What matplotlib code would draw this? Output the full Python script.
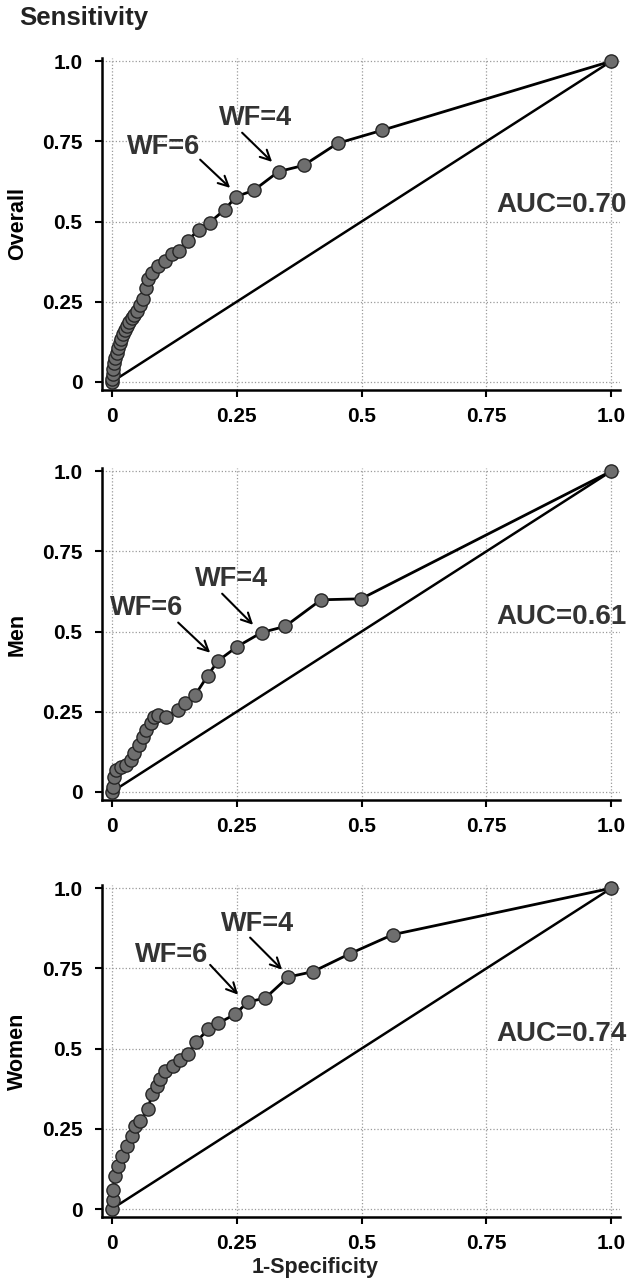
import matplotlib
matplotlib.use('Agg')
from matplotlib import pyplot as plt

plt.rcParams['font.family'] = ['Liberation Sans', 'DejaVu Sans']
plt.rcParams['font.weight'] = 'bold'

# ROC points (1-specificity, sensitivity)
overall_fpr = [0, 0.001, 0.002, 0.003, 0.004, 0.006, 0.01, 0.013, 0.016, 0.019, 0.022, 0.026,
               0.03, 0.035, 0.04, 0.045, 0.05, 0.056, 0.062, 0.068, 0.072, 0.08, 0.092, 0.106,
               0.12, 0.134, 0.152, 0.174, 0.196, 0.226, 0.249, 0.284, 0.334, 0.384, 0.452, 0.54, 1.0]
overall_tpr = [0, 0.01, 0.025, 0.04, 0.06, 0.075, 0.09, 0.105, 0.122, 0.135, 0.15, 0.162,
               0.175, 0.188, 0.2, 0.21, 0.222, 0.24, 0.26, 0.294, 0.32, 0.34, 0.362, 0.378,
               0.40, 0.409, 0.44, 0.475, 0.497, 0.537, 0.578, 0.597, 0.656, 0.675, 0.744, 0.784, 1.0]

men_fpr = [0, 0.002, 0.005, 0.009, 0.019, 0.029, 0.039, 0.045, 0.055, 0.062, 0.069, 0.079, 0.085,
           0.092, 0.109, 0.132, 0.147, 0.167, 0.192, 0.213, 0.251, 0.30, 0.347, 0.419, 0.499, 1.0]
men_tpr = [0, 0.016, 0.047, 0.068, 0.078, 0.083, 0.099, 0.12, 0.146, 0.172, 0.193, 0.214, 0.234,
           0.24, 0.234, 0.255, 0.278, 0.302, 0.3625, 0.409, 0.453, 0.497, 0.516, 0.599, 0.602, 1.0]

women_fpr = [0, 0.002, 0.003, 0.007, 0.013, 0.02, 0.03, 0.04, 0.047, 0.057, 0.073, 0.08, 0.09,
             0.097, 0.107, 0.123, 0.137, 0.153, 0.169, 0.193, 0.213, 0.247, 0.273, 0.307, 0.353,
             0.403, 0.477, 0.562, 1.0]
women_tpr = [0, 0.029, 0.06, 0.102, 0.133, 0.164, 0.196, 0.227, 0.258, 0.274, 0.312, 0.357, 0.383,
             0.406, 0.43, 0.445, 0.463, 0.484, 0.521, 0.56, 0.579, 0.607, 0.646, 0.657, 0.723,
             0.74, 0.796, 0.855, 1.0]

panel_names = ['Overall', 'Men', 'Women']
auc_labels = ['AUC=0.70', 'AUC=0.61', 'AUC=0.74']
ticks = [0, 0.25, 0.5, 0.75, 1.0]
tick_labels = ['0', '0.25', '0.5', '0.75', '1.0']

# label text centre, arrow tail, arrow tip for WF=6 and WF=4 in each panel
wf6 = [((0.103, 0.733), (0.177, 0.693), (0.237, 0.605)),
       ((0.069, 0.574), (0.133, 0.528), (0.197, 0.434)),
       ((0.119, 0.793), (0.197, 0.761), (0.253, 0.668))]
wf4 = [((0.287, 0.824), (0.261, 0.777), (0.321, 0.686)),
       ((0.239, 0.665), (0.221, 0.618), (0.283, 0.521)),
       ((0.291, 0.889), (0.277, 0.846), (0.341, 0.746))]
auc_y = [0.553, 0.546, 0.546]

curves = [(overall_fpr, overall_tpr), (men_fpr, men_tpr), (women_fpr, women_tpr)]
bottoms = [0.6972, 0.3789, 0.0551]

fig = plt.figure(figsize=(6.28, 12.88), dpi=100)
txt_col = '#333333'

for i in range(3):
    ax = fig.add_axes([0.162, bottoms[i], 0.825, 0.2578])
    fpr, tpr = curves[i]
    ax.plot([0, 1], [0, 1], color='black', lw=1.8, zorder=2)
    ax.plot(fpr, tpr, color='black', lw=2.0, marker='o', markersize=9.5,
            markerfacecolor='#6e6e6e', markeredgecolor='#262626', markeredgewidth=1.0,
            zorder=3, clip_on=False)

    ax.set_xlim(-0.02, 1.017)
    ax.set_ylim(-0.025, 1.01)
    ax.set_xticks(ticks)
    ax.set_xticklabels(tick_labels)
    ax.set_yticks(ticks)
    ax.set_yticklabels(tick_labels)
    ax.tick_params(axis='both', labelsize=15, width=1.5, length=5, direction='out')
    ax.tick_params(axis='y', pad=9)
    ax.tick_params(axis='x', pad=7)
    for lab in ax.get_xticklabels() + ax.get_yticklabels():
        lab.set_fontweight('bold')
    ax.grid(True, color='#9a9a9a', linestyle=':', lw=0.9)
    ax.set_axisbelow(True)
    for s in ['top', 'right']:
        ax.spines[s].set_visible(False)
    for s in ['left', 'bottom']:
        ax.spines[s].set_linewidth(1.8)

    ax.set_ylabel(panel_names[i], fontsize=15.5, fontweight='bold')
    ax.yaxis.set_label_coords(-0.143, 0.5)

    for (tc, tail, tip), lab in [(wf6[i], 'WF=6'), (wf4[i], 'WF=4')]:
        ax.text(tc[0], tc[1], lab, fontsize=19.5, fontweight='bold', color=txt_col,
                ha='center', va='center')
        ax.annotate('', xy=tip, xytext=tail,
                    arrowprops=dict(arrowstyle='->', color='black', lw=1.5,
                                    mutation_scale=18, shrinkA=0, shrinkB=0))

    ax.text(1.031, auc_y[i], auc_labels[i], fontsize=20, fontweight='bold', color=txt_col,
            ha='right', va='center', clip_on=False)

fig.text(0.03, 0.986, 'Sensitivity', fontsize=18.5, fontweight='bold', color='#222222',
         ha='left', va='center')
fig.text(0.502, 0.016, '1-Specificity', fontsize=15.5, fontweight='bold', color='#222222',
         ha='center', va='center')

fig.savefig('out.png', dpi=100)
